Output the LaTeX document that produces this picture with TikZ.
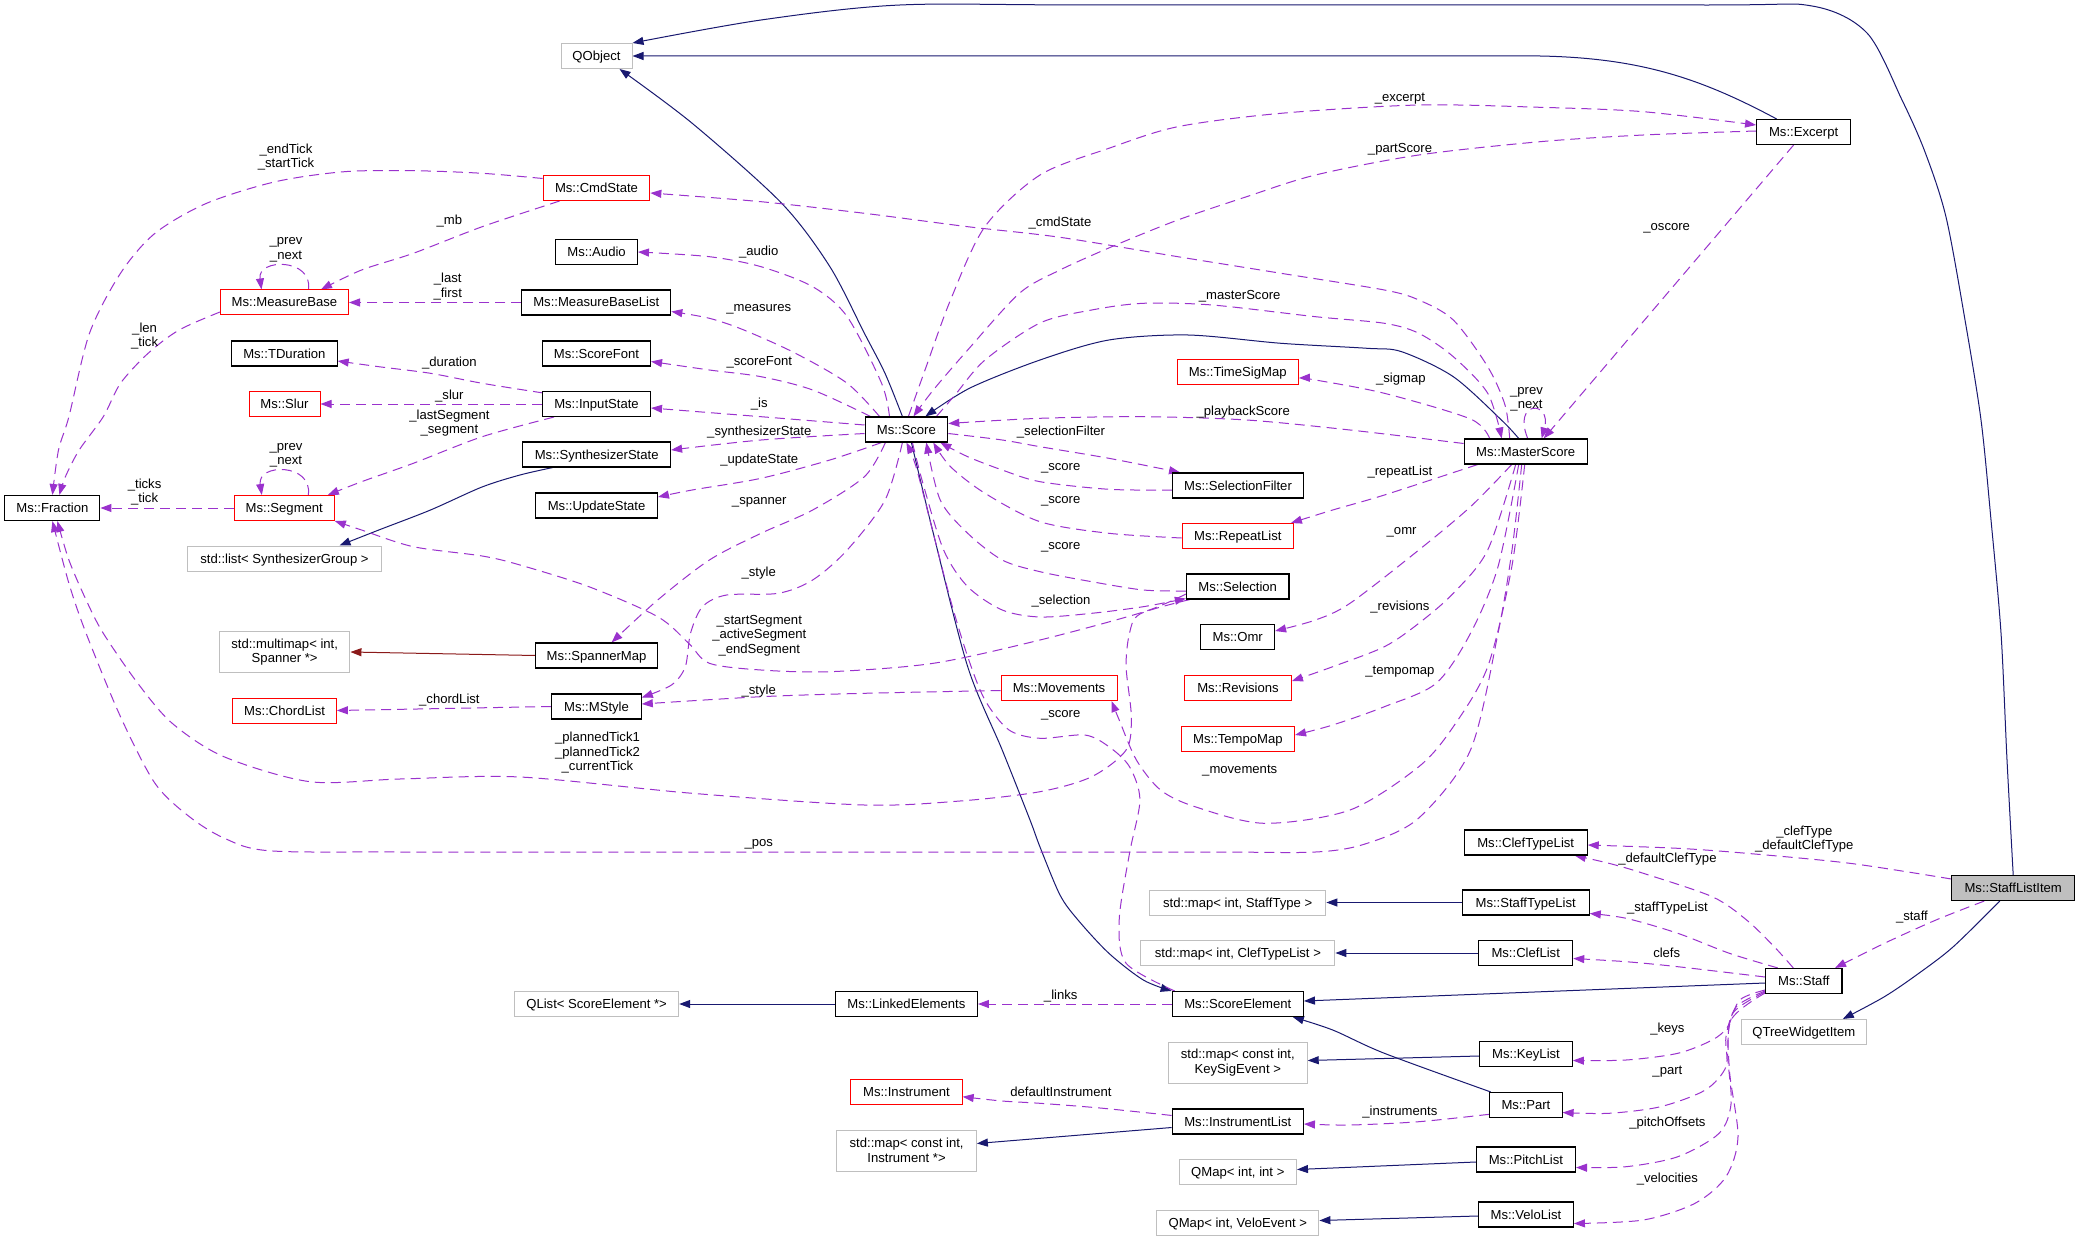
\documentclass[tikz,border=0pt]{standalone}
\usepackage{fontspec}
\setmainfont{Liberation Sans}
\usetikzlibrary{arrows.meta,calc}
\definecolor{inhcol}{HTML}{191970}
\definecolor{usecol}{HTML}{9A32CD}
\definecolor{tplcol}{HTML}{8B1A1A}
\definecolor{graybd}{HTML}{BFBFBF}
\newcommand\nodefont{\fontsize{13.1}{14.5}\selectfont}
\pgfdeclarelayer{bg}
\pgfsetlayers{bg,main}
\begin{document}
\begin{tikzpicture}[x=1pt,y=-1pt,
  cls/.style={rectangle, inner sep=0pt, minimum height=25pt, font=\nodefont, align=center, text height=11pt, text depth=2pt, fill=white},
  kbox/.style={cls, draw=black, line width=1.1pt},
  rbox/.style={cls, draw=red, line width=1pt},
  gbox/.style={cls, draw=graybd, line width=1pt},
  g2box/.style={rectangle, inner sep=0pt, minimum height=41pt, font=\nodefont, align=center, draw=graybd, line width=1pt, fill=white},
  lbl/.style={font=\nodefont, align=center, inner sep=0pt},
  arrowend/.style={-{Triangle[length=11pt,width=8pt]}},
  inh/.style={draw=inhcol, line width=1pt, arrowend},
  tpl/.style={draw=tplcol, line width=1pt, arrowend},
  usage/.style={draw=usecol, line width=1pt, dash pattern=on 10pt off 6pt, arrowend},
  sm/.style={smooth, tension=0.5}
]
\useasboundingbox (0,0) rectangle (2080,1241);
\begin{pgfonlayer}{bg}
\fill[white] (0,0) rectangle (2080,1241);
\end{pgfonlayer}

% ---------- nodes ----------
\node[rbox, minimum width=128pt] (measurebase) at (284.5,302.5) {Ms::MeasureBase};
\node[kbox, minimum width=105.4pt] (tduration) at (284.4,353.5) {Ms::TDuration};
\node[rbox, minimum width=71pt] (slur) at (284.5,404) {Ms::Slur};
\node[rbox, minimum width=106.7pt] (cmdstate) at (596.5,188) {Ms::CmdState};
\node[gbox, minimum width=71pt] (qobject) at (596.5,56) {QObject};
\node[kbox, minimum width=81.6pt] (audio) at (596.6,252) {Ms::Audio};
\node[kbox, minimum width=149pt] (measurebaselist) at (596.3,302.5) {Ms::MeasureBaseList};
\node[kbox, minimum width=108pt] (scorefont) at (596.5,353.5) {Ms::ScoreFont};
\node[kbox, minimum width=108pt] (inputstate) at (596.5,404) {Ms::InputState};
\node[rbox, minimum width=121.3pt] (timesigmap) at (1237.7,372) {Ms::TimeSigMap};
\node[kbox, minimum width=94pt] (excerpt) at (1803.6,132) {Ms::Excerpt};
\node[kbox, minimum width=95pt] (fraction) at (52.4,508) {Ms::Fraction};
\node[rbox, minimum width=100pt] (segment) at (284.3,508) {Ms::Segment};
\node[gbox, minimum width=193.5pt] (synthgroup) at (284.5,558.5) {std::list< SynthesizerGroup >};
\node[g2box, minimum width=130.5pt] (multimap) at (284.7,652) {std::multimap< int,\\Spanner *>};
\node[rbox, minimum width=103.6pt] (chordlist) at (284.6,710.5) {Ms::ChordList};
\node[kbox, minimum width=82.7pt] (score) at (906.4,429.5) {Ms::Score};
\node[kbox, minimum width=147.7pt] (synthstate) at (596.7,454.5) {Ms::SynthesizerState};
\node[kbox, minimum width=121.6pt] (updatestate) at (596.6,505.5) {Ms::UpdateState};
\node[kbox, minimum width=121.6pt] (spannermap) at (596.6,655.5) {Ms::SpannerMap};
\node[kbox, minimum width=89.5pt] (mstyle) at (596.5,706.5) {Ms::MStyle};
\node[rbox, minimum width=116pt] (movements) at (1059,688) {Ms::Movements};
\node[kbox, minimum width=123pt] (masterscore) at (1525.7,451.5) {Ms::MasterScore};
\node[kbox, minimum width=130.8pt] (selectionfilter) at (1238,485.5) {Ms::SelectionFilter};
\node[rbox, minimum width=111.2pt] (repeatlist) at (1237.8,536) {Ms::RepeatList};
\node[kbox, minimum width=102.6pt] (selection) at (1237.7,586.5) {Ms::Selection};
\node[kbox, minimum width=73.7pt] (omr) at (1237.7,637) {Ms::Omr};
\node[rbox, minimum width=106.8pt] (revisions) at (1238,688) {Ms::Revisions};
\node[rbox, minimum width=113.3pt] (tempomap) at (1237.9,738.5) {Ms::TempoMap};
\node[kbox, minimum width=123pt] (cleftypelist) at (1525.7,842.5) {Ms::ClefTypeList};
\node[gbox, minimum width=164.2pt] (qlist) at (596.6,1004) {QList< ScoreElement *>};
\node[kbox, minimum width=142pt] (linkedelements) at (906.4,1004) {Ms::LinkedElements};
\node[rbox, minimum width=111.5pt] (instrument) at (906.4,1092) {Ms::Instrument};
\node[g2box, minimum width=139.5pt] (mapinstr) at (906.6,1150.5) {std::map< const int,\\Instrument *>};
\node[gbox, minimum width=176.3pt] (mapstafftype) at (1237.7,902.5) {std::map< int, StaffType >};
\node[kbox, minimum width=127pt] (stafftypelist) at (1525.7,902.5) {Ms::StaffTypeList};
\node[gbox, minimum width=194pt] (mapcleftypelist) at (1237.9,953) {std::map< int, ClefTypeList >};
\node[kbox, minimum width=94pt] (cleflist) at (1525.7,953) {Ms::ClefList};
\node[kbox, minimum width=131.2pt] (scoreelement) at (1237.8,1004) {Ms::ScoreElement};
\node[g2box, minimum width=138.8pt] (mapkeysig) at (1237.8,1062.5) {std::map< const int,\\KeySigEvent >};
\node[kbox, minimum width=92.7pt] (keylist) at (1526,1054) {Ms::KeyList};
\node[kbox, minimum width=131.2pt] (instrumentlist) at (1237.8,1121.5) {Ms::InstrumentList};
\node[kbox, minimum width=72.3pt] (part) at (1525.9,1105) {Ms::Part};
\node[gbox, minimum width=117.4pt] (qmapintint) at (1237.8,1171.5) {QMap< int, int >};
\node[kbox, minimum width=99.2pt] (pitchlist) at (1525.9,1159.5) {Ms::PitchList};
\node[gbox, minimum width=162.2pt] (qmapvelo) at (1237.8,1222.5) {QMap< int, VeloEvent >};
\node[kbox, minimum width=95pt] (velolist) at (1525.9,1214.5) {Ms::VeloList};
\node[kbox, fill=graybd, minimum width=123.3pt] (stafflistitem) at (2013.2,888) {Ms::StaffListItem};
\node[kbox, minimum width=76.4pt] (staff) at (1803.8,981) {Ms::Staff};
\node[gbox, minimum width=125.3pt] (qtreewidgetitem) at (1803.8,1032) {QTreeWidgetItem};

% ---------- edges ----------
\begin{pgfonlayer}{bg}
% inheritance
\draw[inh] plot[sm] coordinates {(stafflistitem.north) (2007,760) (2001,633) (1991,520) (1981,420) (1965,320) (1946,217) (1925,152) (1902,100) (1867,33) (1812,6) (1700,5) (1100,5) (900,5) (761,20) (qobject.north east)};
\draw[inh] ($(excerpt.north)+(-27,0)$) .. controls (1700,78) and (1640,58) .. (1540,56) -- (qobject.east);
\draw[inh] plot[sm] coordinates {($(score.north)+(-4,0)$) (885,373.3) (864.4,333.3) (829.9,266.7) (781.7,203.3) (692.2,123.3) ($(qobject.south)+(23,0)$)};
\draw[inh] plot[sm] coordinates {($(masterscore.north)+(-7,0)$) (1501.4,420) (1453.3,376.7) (1401.6,351.7) (1367.2,348.3) (1281,343.3) (1188,335) (1108.9,340) (1040,360) (970,388) ($(score.north)+(19,0)$)};
\draw[inh] plot[sm] coordinates {($(synthstate.south)+(-44,0)$) (520,475) (482,487) (430.5,510) (378.8,530) ($(synthgroup.north)+(55,0)$)};
\draw[tpl] (spannermap.west) -- (multimap.east);
\draw[inh] plot[sm] coordinates {($(score.south)+(5,0)$) (933.3,533.3) (967.7,666.7) (1002.2,750) (1030,820) (1040,847) (1060,895) (1078,920) (1108.9,953.3) (1143.3,980) (scoreelement.north west)};
\draw[inh] (linkedelements.west) -- (qlist.east);
\draw[inh] (stafftypelist.west) -- (mapstafftype.east);
\draw[inh] (cleflist.west) -- (mapcleftypelist.east);
\draw[inh] ($(staff.west)+(0,2)$) -- ($(scoreelement.east)+(0,-3)$);
\draw[inh] ($(keylist.west)+(0,2)$) -- ($(mapkeysig.east)+(0,-2)$);
\draw[inh] plot[sm] coordinates {($(part.north west)+(1.5,0)$) (1384.4,1053.3) (1332.7,1030) ($(scoreelement.south)+(55,0)$)};
\draw[inh] ($(instrumentlist.west)+(0,6)$) -- ($(mapinstr.east)+(0,-7)$);
\draw[inh] ($(pitchlist.west)+(0,2.5)$) -- ($(qmapintint.east)+(0,-2)$);
\draw[inh] ($(velolist.west)+(0,1.5)$) -- ($(qmapvelo.east)+(0,-2)$);
\draw[inh] plot[sm] coordinates {($(stafflistitem.south)+(-13.4,0)$) (1953.3,946.7) (1918.8,973.3) (1884.4,996.7) ($(qtreewidgetitem.north)+(39,0)$)};

% usage (dashed)
\draw[usage] plot[sm] coordinates {($(score.north)+(2,0)$) (925,370) (950.5,300) (984.9,226.7) (1040,175) (1108.9,148.3) (1177.8,126.7) (1281,113.3) (1418.8,105) (1540,107.3) (1643.3,111.7) ($(excerpt.west)+(0,-7)$)};
\draw[usage] plot[sm] coordinates {($(excerpt.west)+(0,-1)$) (1643.3,135) (1540,141.7) (1418.8,155) (1315.5,175) (1246.6,196.7) (1177.8,220) (1115.8,245) (1060,270) (1019.4,293.3) (967.7,350) (933.3,390) ($(score.north)+(7,0)$)};
\draw[usage] plot[sm] coordinates {($(score.north)+(30,0)$) (955,395) (985,360) (1040,323) (1091.7,310) (1143.3,303.3) (1212.2,305) (1315.5,316.7) (1384.4,323.3) (1418.8,333.3) (1453.3,356.7) (1487.7,393.3) ($(masterscore.north)+(-24,0)$)};
\draw[usage] plot[sm] coordinates {($(masterscore.north)+(-16,0)$) (1505,405) (1487.7,366.7) (1453.3,320) (1418.8,300) (1384.4,290) (1281,273.3) (1177.8,256.7) (1060,237.3) (967.7,226.7) (864.4,213.3) (761,201.7) ($(cmdstate.east)+(0,5)$)};
\draw[usage] ($(excerpt.south)+(-10,0)$) -- ($(masterscore.north)+(18,0)$);
\draw[usage] ($(masterscore.north)+(2,0)$) .. controls (1512,400) and (1552,400) .. ($(masterscore.north)+(16,0)$);
\draw[usage] plot[sm] coordinates {($(masterscore.north west)+(26,0)$) (1470.5,419) (1384.4,393.3) (1315.5,380) ($(timesigmap.east)+(0,6)$)};
\draw[usage] plot[sm] coordinates {($(masterscore.west)+(0,-8)$) (1350,430) (1246.6,420) (1143.3,416.7) (1040,418.3) ($(score.east)+(0,-6)$)};
\draw[usage] plot[sm] coordinates {($(score.east)+(0,4)$) (1002.2,440) (1040,446.7) (1108.9,458.3) ($(selectionfilter.north west)+(8,0)$)};
\draw[usage] plot[sm] coordinates {($(selectionfilter.west)+(0,4.5)$) (1108.9,489.3) (1040,481.7) (1002.2,470) (967.7,456.7) ($(score.south east)+(-8,0)$)};
\draw[usage] plot[sm] coordinates {($(repeatlist.west)+(0,2)$) (1108.9,533.3) (1040,521.7) (985,493.3) (950.5,466.7) ($(score.south east)+(-15,0)$)};
\draw[usage] plot[sm] coordinates {($(selection.west)+(0,4.5)$) (1143.3,590) (1091.7,581.7) (1040,571.7) (1002.2,560) (967.7,533.3) (940.2,500) ($(score.south east)+(-22,0)$)};
\draw[usage] plot[sm] coordinates {($(score.south)+(6,0)$) (922.9,483.3) (943.6,550) (967.7,586.7) (1002.2,610) (1040,617) (1091.7,613.3) (1143.3,606.7) ($(selection.south west)+(0,-1)$)};
\draw[usage] plot[sm] coordinates {($(selection.west)+(0,7.5)$) (1143.3,612) (1040,640) (933.3,663.3) (829.9,671.7) (761,670) (709.4,663.3) (688.7,643.3) (657.7,616.7) (588.9,586.7) (520,565) (482.2,556) (413.3,546.7) (361.6,530) (segment.south east)};
\draw[usage] plot[sm] coordinates {($(selection.south west)+(4,0)$) (1140,614) (1129.5,633.3) (1126.1,666.7) (1131.3,716.7) (1126.1,750) (1091.7,776.7) (1040,791.7) (960,801) (864.4,805) (692.2,793.3) (520,777) (400,779) (310,781.7) (223.9,756.7) (172.2,723.3) (137.8,683.3) (103.3,633.3) (86.1,600) (68.9,560) ($(fraction.south)+(5,0)$)};
\draw[usage] plot[sm] coordinates {($(masterscore.south)+(-4,0)$) (1512,550) (1498,633.3) (1470.5,750) (1418.8,818) (1367.2,843.3) (1315.5,852) (1200,852) (800,852) (400,852) (268.6,850.7) (223.9,838) (189.4,816.7) (155,783.3) (120.5,716.7) (86.1,633.3) (68.9,583.3) (fraction.south)};
\draw[usage] plot[sm] coordinates {($(masterscore.south west)+(14,0)$) (1384.4,495) (1332.7,510) ($(repeatlist.north east)+(-3,0)$)};
\draw[usage] plot[sm] coordinates {($(masterscore.south)+(-14,0)$) (1470.5,506.7) (1418.8,550) (1350,603.3) (1315.5,620) ($(omr.east)+(0,-6)$)};
\draw[usage] plot[sm] coordinates {($(masterscore.south)+(-10,0)$) (1487.7,550) (1453.3,593.3) (1418.8,623.3) (1384.4,646.7) (1332.7,666.7) ($(revisions.east)+(0,-7)$)};
\draw[usage] plot[sm] coordinates {($(masterscore.south)+(-7,0)$) (1498,566.7) (1470.5,633.3) (1436.1,683.3) (1384.4,706.7) (1332.7,725) ($(tempomap.east)+(0,-3.5)$)};
\draw[usage] plot[sm] coordinates {($(masterscore.south)+(-1,0)$) (1511.8,566.7) (1487.7,666.7) (1453.3,726.7) (1418.8,766.7) (1350,810) (1263.9,823.3) (1195,806.7) (1160.5,790) (1136.4,760) (1119.2,720) ($(movements.south east)+(-6,0)$)};
\draw[usage] plot[sm] coordinates {($(scoreelement.north west)+(3,0)$) (1126.1,963.3) (1119.2,920) (1129.5,853.3) (1139.9,800) (1129.5,766.7) (1108.9,746.7) (1084.8,735) (1040,738.3) (1009,730) (984.9,700) (967.7,656.7) (950.5,600) (933.3,533.3) (916,466.7) (score.south)};
\draw[usage] (scoreelement.west) -- (linkedelements.east);
\draw[usage] plot[sm] coordinates {($(instrumentlist.north west)+(0,7)$) (1100,1108) (1040,1103.3) (1002,1101) ($(instrument.east)+(0,4.7)$)};
\draw[usage] plot[sm] coordinates {($(part.west)+(0,9.3)$) (1418.8,1121.7) (1350,1125) ($(instrumentlist.east)+(0,2.5)$)};
\draw[usage] plot[sm] coordinates {($(movements.west)+(0,2.5)$) (864.4,693.3) (761,696.7) ($(mstyle.east)+(0,-2.5)$)};
\draw[usage] (mstyle.west) -- (chordlist.east);
\draw[usage] plot[sm] coordinates {($(score.south)+(-4,0)$) (885.1,500) (847.2,550) (812.7,580) (778.3,593.3) (726.6,595) (702.5,606.7) (690.5,633.3) (685.3,666.7) (671.5,685) ($(mstyle.east)+(0,-9)$)};
\draw[usage] plot[sm] coordinates {($(score.south)+(-21,0)$) (864.4,476.7) (812.7,510) (761,533.3) (709.4,560) (657.7,600) ($(spannermap.north)+(15,0)$)};
\draw[usage] plot[sm] coordinates {($(score.south west)+(17,0)$) (829.9,460) (761,478.3) (692.2,490) ($(updatestate.east)+(0,-8.5)$)};
\draw[usage] plot[sm] coordinates {($(score.west)+(0,4)$) (761,440) ($(synthstate.east)+(0,-4.5)$)};
\draw[usage] plot[sm] coordinates {($(score.west)+(0,-4.5)$) (761,416.7) ($(inputstate.east)+(0,4)$)};
\draw[usage] plot[sm] coordinates {($(score.north west)+(6,0)$) (812.7,390) (761,376.7) (709.4,370) ($(scorefont.east)+(0,8)$)};
\draw[usage] plot[sm] coordinates {($(score.north west)+(15,0)$) (847.2,383.3) (795.5,353.3) (743.9,330) (709.4,318.3) ($(measurebaselist.east)+(0,9)$)};
\draw[usage] plot[sm] coordinates {($(score.north west)+(25,0)$) (881.6,383.3) (847.2,316.7) (812.7,286.7) (761,266.7) (709.4,256.7) (audio.east)};
\draw[usage] plot[sm] coordinates {($(inputstate.north west)+(1,2)$) (482.2,383.3) (430.5,373.3) (378.8,366.7) ($(tduration.east)+(0,7.5)$)};
\draw[usage] (inputstate.west) -- (slur.east);
\draw[usage] plot[sm] coordinates {($(inputstate.south west)+(12,0)$) (482.2,436.7) (413.3,463.3) (361.6,481.7) ($(segment.north east)+(-7,0)$)};
\draw[usage] (measurebaselist.west) -- (measurebase.east);
\draw[usage] plot[sm] coordinates {($(cmdstate.south west)+(17,0)$) (482.2,226.7) (413.3,253.3) (361.6,270) ($(measurebase.north east)+(-28,0)$)};
\draw[usage] plot[sm] coordinates {($(cmdstate.west)+(0,-9.5)$) (482.2,173.3) (413.3,170.7) (344.4,171.7) (275.5,181.7) (206.6,203.3) (155,233.3) (120.5,273.3) (89.5,333.3) (68.9,416.7) (58.5,450) (fraction.north)};
\draw[usage] plot[sm] coordinates {($(measurebase.west)+(0,9.5)$) (179.1,330) (148.1,353.3) (120.5,383.3) (103.3,416.7) (79.2,450) (65.4,476.7) ($(fraction.north)+(7,0)$)};
\draw[usage] ($(measurebase.north)+(24,0)$) .. controls (313,258) and (257,258) .. ($(measurebase.north)+(-23,0)$);
\draw[usage] ($(segment.north)+(24,0)$) .. controls (313,463) and (257,463) .. ($(segment.north)+(-22.5,0)$);
\draw[usage] (segment.west) -- (fraction.east);
\draw[usage] plot[sm] coordinates {($(stafflistitem.north west)+(0,4)$) (1849.9,863.3) (1746.6,853.3) (1677.8,848.3) ($(cleftypelist.east)+(0,2.5)$)};
\draw[usage] plot[sm] coordinates {($(stafflistitem.south)+(-29,0)$) (1936,920) (1884.4,943.3) ($(staff.north east)+(-7.5,0)$)};
\draw[usage] plot[sm] coordinates {($(staff.north)+(-10.5,0)$) (1774.2,946.7) (1746.6,920) (1712.2,896.7) (1643.3,873.3) (1608.9,863.3) ($(cleftypelist.south east)+(-13,0)$)};
\draw[usage] plot[sm] coordinates {($(staff.north)+(-26,0)$) (1729.4,953.3) (1677.8,933.3) (1626.1,918.3) ($(stafftypelist.east)+(0,11)$)};
\draw[usage] plot[sm] coordinates {($(staff.west)+(0,-4)$) (1677.8,966.7) (1626.1,961.7) ($(cleflist.east)+(0,5.5)$)};
\draw[usage] plot[sm] coordinates {($(staff.west)+(0,9)$) (1739.7,1000) (1727.7,1026.7) (1712.2,1040) (1677.8,1053.3) (1626.1,1060) ($(keylist.east)+(0,6.5)$)};
\draw[usage] plot[sm] coordinates {($(staff.west)+(0,10)$) (1736.3,1006.7) (1726,1036.7) (1726,1066.7) (1705.3,1090) (1660.5,1106.7) (1608.9,1113.3) ($(part.east)+(0,7.5)$)};
\draw[usage] plot[sm] coordinates {($(staff.west)+(0,11)$) (1732.8,1013.3) (1727.7,1053.3) (1731.1,1103.3) (1719.1,1133.3) (1677.8,1156.7) (1626.1,1166.7) ($(pitchlist.east)+(0,8)$)};
\draw[usage] plot[sm] coordinates {($(staff.west)+(0,12)$) (1731.1,1020) (1729.4,1070) (1738,1136.7) (1726,1176.7) (1695,1203.3) (1643.3,1220) ($(velolist.east)+(0,9)$)};
\end{pgfonlayer}

% ---------- labels ----------
\node[lbl] (l01) at (286,157.3) {\_endTick\\\_startTick};
\node[lbl] (l02) at (286,249.7) {\_prev\\\_next};
\node[lbl] (l03) at (449.4,220.7) {\_mb};
\node[lbl] (l04) at (447.7,286.8) {\_last\\\_first};
\node[lbl] (l05) at (144.6,336.2) {\_len\\\_tick};
\node[lbl] (l06) at (449.4,362.7) {\_duration};
\node[lbl] (l07) at (449.4,395.7) {\_slur};
\node[lbl] (l08) at (449.4,423.2) {\_lastSegment\\\_segment};
\node[lbl] (l09) at (286,455.5) {\_prev\\\_next};
\node[lbl] (l10) at (144.6,492.2) {\_ticks\\\_tick};
\node[lbl] (l11) at (449.4,699.7) {\_chordList};
\node[lbl] (l12) at (597.5,753) {\_plannedTick1\\\_plannedTick2\\\_currentTick};
\node[lbl] (l13) at (758.7,251.7) {\_audio};
\node[lbl] (l14) at (758.7,309) {\_measures};
\node[lbl] (l15) at (759.3,362.7) {\_scoreFont};
\node[lbl] (l16) at (759.3,404.3) {\_is};
\node[lbl] (l17) at (759.3,431.7) {\_synthesizerState};
\node[lbl] (l18) at (759.3,460) {\_updateState};
\node[lbl] (l19) at (759.3,502.7) {\_spanner};
\node[lbl] (l20) at (758.7,572.7) {\_style};
\node[lbl] (l21) at (759.3,635.7) {\_startSegment\\\_activeSegment\\\_endSegment};
\node[lbl] (l22) at (758.7,690.7) {\_style};
\node[lbl] (l23) at (758.7,844) {\_pos};
\node[lbl] (l24) at (1060,223) {\_cmdState};
\node[lbl] (l25) at (1061,432) {\_selectionFilter};
\node[lbl] (l26) at (1060.7,468) {\_score};
\node[lbl] (l27) at (1060.7,501) {\_score};
\node[lbl] (l28) at (1060.7,547) {\_score};
\node[lbl] (l29) at (1061,600.7) {\_selection};
\node[lbl] (l30) at (1060.7,715.7) {\_score};
\node[lbl] (l31) at (1060.7,995.7) {\_links};
\node[lbl] (l32) at (1061,1091.7) {defaultInstrument};
\node[lbl] (l33) at (1239.7,296) {\_masterScore};
\node[lbl] (l34) at (1243.2,412) {\_playbackScore};
\node[lbl] (l35) at (1239.7,770.7) {\_movements};
\node[lbl] (l36) at (1399.9,99) {\_excerpt};
\node[lbl] (l37) at (1400,149) {\_partScore};
\node[lbl] (l38) at (1400.9,379) {\_sigmap};
\node[lbl] (l39) at (1399.9,471.7) {\_repeatList};
\node[lbl] (l40) at (1401.6,532.7) {\_omr};
\node[lbl] (l41) at (1399.9,606.7) {\_revisions};
\node[lbl] (l42) at (1399.9,671.7) {\_tempomap};
\node[lbl] (l43) at (1399.9,1112.3) {\_instruments};
\node[lbl] (l44) at (1526.5,399.5) {\_prev\\\_next};
\node[lbl] (l45) at (1666.7,228) {\_oscore};
\node[lbl] (l46) at (1667.4,859.3) {\_defaultClefType};
\node[lbl] (l47) at (1667.4,908.3) {\_staffTypeList};
\node[lbl] (l48) at (1666.7,952.7) {clefs};
\node[lbl] (l49) at (1667.4,1029) {\_keys};
\node[lbl] (l50) at (1667.4,1071.7) {\_part};
\node[lbl] (l51) at (1667.4,1123.3) {\_pitchOffsets};
\node[lbl] (l52) at (1667.4,1178.7) {\_velocities};
\node[lbl] (l53) at (1804.3,839.2) {\_clefType\\\_defaultClefType};
\node[lbl] (l54) at (1911.9,916.7) {\_staff};
\end{tikzpicture}
\end{document}
